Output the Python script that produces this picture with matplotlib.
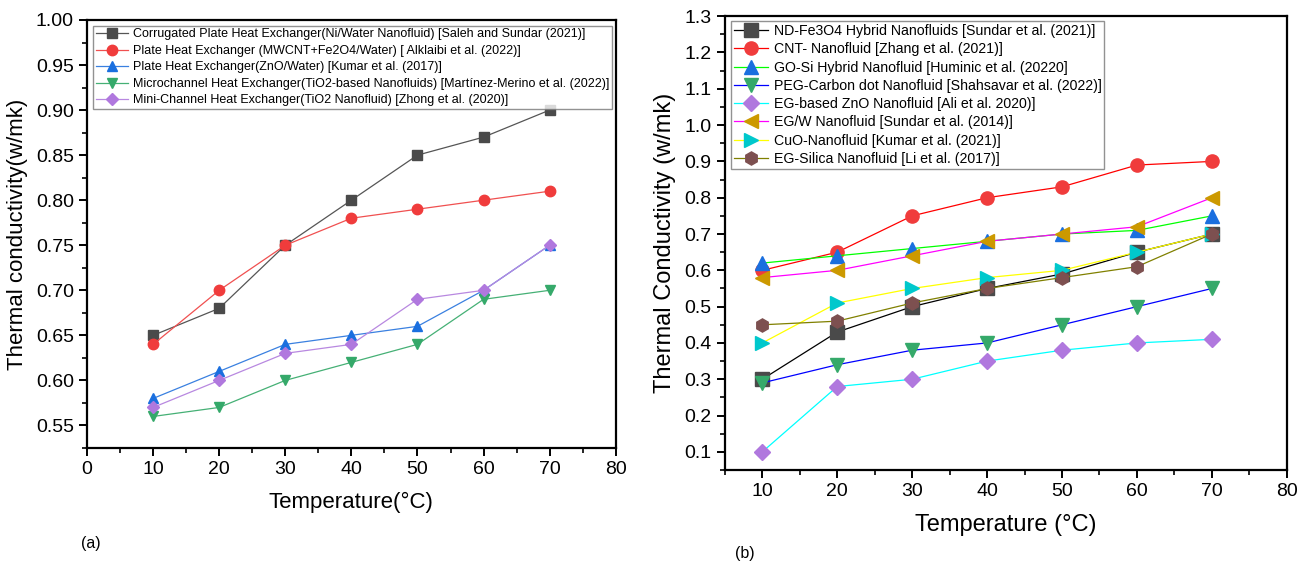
import matplotlib
matplotlib.use("Agg")
import matplotlib.pyplot as plt
from matplotlib.ticker import MultipleLocator

plt.rcParams['font.family'] = ['Liberation Sans', 'DejaVu Sans']

####################################################################
# Data : panel (a)
####################################################################

temp = [10, 20, 30, 40, 50, 60, 70]

labels_a = [
    "Corrugated Plate Heat Exchanger(Ni/Water Nanofluid) [Saleh and Sundar (2021)]",
    "Plate Heat Exchanger (MWCNT+Fe2O4/Water) [ Alklaibi et al. (2022)]",
    "Plate Heat Exchanger(ZnO/Water) [Kumar et al. (2017)]",
    "Microchannel Heat Exchanger(TiO2-based Nanofluids) [Martínez-Merino et al. (2022)]",
    "Mini-Channel Heat Exchanger(TiO2 Nanofluid) [Zhong et al. (2020)]",
]
corrugated = [0.65, 0.68, 0.75, 0.80, 0.85, 0.87, 0.90]
plate_mwcnt = [0.64, 0.70, 0.75, 0.78, 0.79, 0.80, 0.81]
plate_zno = [0.58, 0.61, 0.64, 0.65, 0.66, 0.70, 0.75]
microchannel = [0.56, 0.57, 0.60, 0.62, 0.64, 0.69, 0.70]
minichannel = [0.57, 0.60, 0.63, 0.64, 0.69, 0.70, 0.75]

####################################################################
# Data : panel (b)
####################################################################

labels_b = [
    "ND-Fe3O4 Hybrid Nanofluids [Sundar et al. (2021)]",
    "CNT- Nanofluid [Zhang et al. (2021)]",
    "GO-Si Hybrid Nanofluid [Huminic et al. (20220]",
    "PEG-Carbon dot Nanofluid [Shahsavar et al. (2022)]",
    "EG-based ZnO Nanofluid [Ali et al. 2020)]",
    "EG/W Nanofluid [Sundar et al. (2014)]",
    "CuO-Nanofluid [Kumar et al. (2021)]",
    "EG-Silica Nanofluid [Li et al. (2017)]",
]
nd_fe3o4 = [0.30, 0.43, 0.50, 0.55, 0.59, 0.65, 0.70]
cnt = [0.60, 0.65, 0.75, 0.80, 0.83, 0.89, 0.90]
go_si = [0.62, 0.64, 0.66, 0.68, 0.70, 0.71, 0.75]
peg_carbon = [0.29, 0.34, 0.38, 0.40, 0.45, 0.50, 0.55]
eg_zno = [0.10, 0.28, 0.30, 0.35, 0.38, 0.40, 0.41]
eg_w = [0.58, 0.60, 0.64, 0.68, 0.70, 0.72, 0.80]
cuo = [0.40, 0.51, 0.55, 0.58, 0.60, 0.65, 0.70]
eg_silica = [0.45, 0.46, 0.51, 0.55, 0.58, 0.61, 0.70]

# Origin style colours
mk_colors = ["#4a4a4a", "#f03c3c", "#1a6fdf", "#35a96a", "#b078de", "#cc9900", "#00c8cc", "#7d5050"]
markers = ["s", "o", "^", "v", "D", "<", ">", "h"]

fig = plt.figure(figsize=(12.99, 5.68), dpi=100)

####################################################################
# Panel (a)
####################################################################

ax1 = fig.add_axes([0.067, 0.2113, 0.407, 0.7535])
series_a = [corrugated, plate_mwcnt, plate_zno, microchannel, minichannel]
line_a = ["#555555", "#f05050", "#3a80e0", "#45b075", "#b888e0"]
for i, vals in enumerate(series_a):
    ms = 6.5 if markers[i] == "D" else 7.5
    ax1.plot(temp, vals, color=line_a[i], lw=0.9, marker=markers[i], ms=ms,
             mfc=mk_colors[i], mec=mk_colors[i], label=labels_a[i])

ax1.set_xlim(0, 80)
ax1.set_ylim(0.525, 1.0)
ax1.xaxis.set_major_locator(MultipleLocator(10))
ax1.xaxis.set_minor_locator(MultipleLocator(5))
ax1.yaxis.set_major_locator(MultipleLocator(0.05))
ax1.yaxis.set_minor_locator(MultipleLocator(0.025))
ax1.yaxis.set_major_formatter(plt.FormatStrFormatter("%.2f"))
ax1.set_xlabel("Temperature(°C)", fontsize=16, labelpad=10)
ax1.set_ylabel("Thermal conductivity(w/mk)", fontsize=16, labelpad=6)
ax1.legend(loc="upper left", bbox_to_anchor=(0.012, 0.986), fontsize=9,
           frameon=True, fancybox=False, edgecolor="#777777", borderaxespad=0,
           handlelength=2.6, labelspacing=0.36, borderpad=0.2, handletextpad=0.4)

####################################################################
# Panel (b)
####################################################################

ax2 = fig.add_axes([0.558, 0.1725, 0.4326, 0.799])
series_b = [nd_fe3o4, cnt, go_si, peg_carbon, eg_zno, eg_w, cuo, eg_silica]
line_b = ["#000000", "#ff0000", "#00ff00", "#0000ff", "#00ffff", "#ff00ff", "#ffff00", "#808000"]
for i, vals in enumerate(series_b):
    ms = 8 if markers[i] == "D" else 9.5
    ax2.plot(temp, vals, color=line_b[i], lw=0.9, marker=markers[i], ms=ms,
             mfc=mk_colors[i], mec=mk_colors[i], label=labels_b[i])

ax2.set_xlim(5, 80)
ax2.set_ylim(0.05, 1.3)
ax2.xaxis.set_major_locator(MultipleLocator(10))
ax2.xaxis.set_minor_locator(MultipleLocator(5))
ax2.yaxis.set_major_locator(MultipleLocator(0.1))
ax2.yaxis.set_minor_locator(MultipleLocator(0.05))
ax2.yaxis.set_major_formatter(plt.FormatStrFormatter("%.1f"))
ax2.set_xlabel("Temperature (°C)", fontsize=17, labelpad=10)
ax2.set_ylabel("Thermal Conductivity (w/mk)", fontsize=17, labelpad=6)
ax2.legend(loc="upper left", bbox_to_anchor=(0.011, 0.989), fontsize=10.2,
           frameon=True, fancybox=False, edgecolor="#777777", borderaxespad=0,
           handlelength=2.4, labelspacing=0.3, borderpad=0.2, handletextpad=0.4)

# common axis styling
for ax in (ax1, ax2):
    for sp in ax.spines.values():
        sp.set_linewidth(1.6)
    ax.tick_params(which="major", direction="out", length=6, width=1.4, labelsize=14)
    ax.tick_params(which="minor", direction="out", length=3.5, width=1.2)
    ax.tick_params(top=False, right=False, which="both")

fig.text(0.062, 0.035, "(a)", fontsize=11.5)
fig.text(0.566, 0.017, "(b)", fontsize=11.5)

fig.savefig("out.png", dpi=100)
